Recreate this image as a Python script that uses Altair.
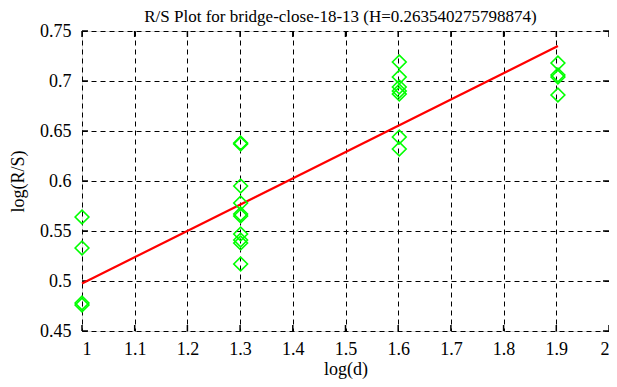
import altair as alt
import pandas as pd

TITLE = "R/S Plot for bridge-close-18-13 (H=0.263540275798874)"

# Scatter data: log(d) and log(R/S)
pt_x = [1.0, 1.0, 1.0, 1.0,
        1.30103, 1.30103, 1.30103, 1.30103, 1.30103, 1.30103, 1.30103, 1.30103, 1.30103, 1.30103,
        1.60206, 1.60206, 1.60206, 1.60206, 1.60206, 1.60206, 1.60206,
        1.90309, 1.90309, 1.90309, 1.90309]
pt_y = [0.564, 0.533, 0.478, 0.476,
        0.638, 0.637, 0.595, 0.578, 0.567, 0.565, 0.547, 0.541, 0.538, 0.517,
        0.719, 0.704, 0.694, 0.690, 0.687, 0.644, 0.632,
        0.718, 0.706, 0.704, 0.686]

# Fitted line
line_x = [1.0, 1.90309]
line_y = [0.4975, 0.735]

x_ticks = [1, 1.1, 1.2, 1.3, 1.4, 1.5, 1.6, 1.7, 1.8, 1.9, 2]
y_ticks = [0.45, 0.5, 0.55, 0.6, 0.65, 0.7, 0.75]

W, H = 527, 300
FONT = "Liberation Serif"

pts = pd.DataFrame({"x": pt_x, "y": pt_y})
ln = pd.DataFrame({"x": line_x, "y": line_y})
xt = pd.DataFrame({"x": x_ticks})
yt = pd.DataFrame({"y": y_ticks})
tt = pd.DataFrame({"t": [TITLE]})

xscale = alt.Scale(domain=[1, 2], nice=False, zero=False)
yscale = alt.Scale(domain=[0.45, 0.75], nice=False, zero=False)

x_axis = alt.Axis(values=x_ticks, title="log(d)", grid=True, gridDash=[5, 4],
                  gridColor="black", gridOpacity=1, gridWidth=1, ticks=False,
                  domain=False, labelPadding=9, labelFontSize=18, titleFontSize=18,
                  labelFont=FONT, titleFont=FONT, titleFontWeight="normal",
                  labelColor="black", titleColor="black", titlePadding=2,
                  labelExpr="format(datum.value, '.1~f')")
y_axis = alt.Axis(values=y_ticks, title="log(R/S)", grid=True, gridDash=[5, 4],
                  gridColor="black", gridOpacity=1, gridWidth=1, ticks=False,
                  domain=False, labelPadding=11, labelFontSize=18, titleFontSize=18,
                  labelFont=FONT, titleFont=FONT, titleFontWeight="normal",
                  labelColor="black", titleColor="black", titlePadding=12,
                  labelExpr="format(datum.value, '.2~f')")

points = alt.Chart(pts).mark_point(shape="diamond", filled=False, color="#00ff00",
                                   size=190, strokeWidth=1.6, opacity=1).encode(
    x=alt.X("x:Q", scale=xscale, axis=x_axis),
    y=alt.Y("y:Q", scale=yscale, axis=y_axis),
)

line = alt.Chart(ln).mark_line(color="red", strokeWidth=2.2).encode(
    x=alt.X("x:Q", scale=xscale),
    y=alt.Y("y:Q", scale=yscale),
)

tick_style = dict(color="black", strokeWidth=1.5)
xb = alt.Chart(xt).mark_rule(**tick_style).encode(
    x=alt.X("x:Q", scale=xscale), y=alt.value(H), y2=alt.value(H - 6))
xtop = alt.Chart(xt).mark_rule(**tick_style).encode(
    x=alt.X("x:Q", scale=xscale), y=alt.value(0), y2=alt.value(6))
yl = alt.Chart(yt).mark_rule(**tick_style).encode(
    y=alt.Y("y:Q", scale=yscale), x=alt.value(0), x2=alt.value(6))
yr = alt.Chart(yt).mark_rule(**tick_style).encode(
    y=alt.Y("y:Q", scale=yscale), x=alt.value(W), x2=alt.value(W - 6))

title = alt.Chart(tt).mark_text(font=FONT, fontSize=17, color="black", align="center",
                                baseline="alphabetic").encode(
    text="t:N", x=alt.value(W / 2 - 5), y=alt.value(-9))

chart = alt.layer(xb, xtop, yl, yr, line, points, title).properties(
    width=W, height=H,
    autosize=alt.AutoSizeParams(type="none"),
    padding={"left": 74, "top": 23, "right": 0, "bottom": 48},
).configure_view(stroke="black", strokeWidth=1.8).configure(background="white")

chart.save("out.html", embed_options={"renderer": "svg", "actions": False})
